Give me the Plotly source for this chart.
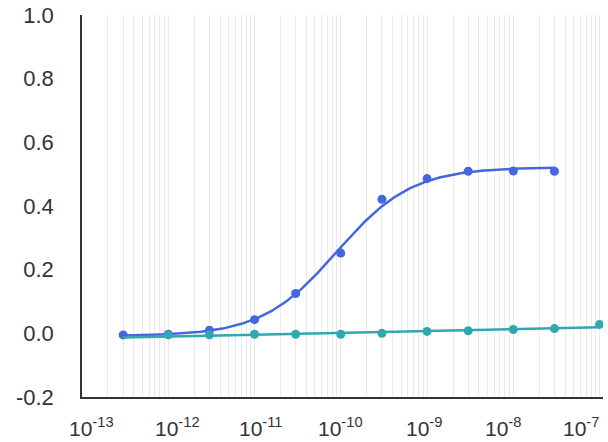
import numpy as np
import plotly.graph_objects as go

# ---- data ----
blue_x = [3e-13, 1e-12, 3e-12, 1e-11, 3e-11, 1e-10, 3e-10, 1e-9, 3e-9, 1e-8, 3e-8]
blue_y = [-0.005, -0.003, 0.010, 0.043, 0.125, 0.252, 0.421, 0.486, 0.509, 0.510, 0.509]
teal_x = [1e-12, 3e-12, 1e-11, 3e-11, 1e-10, 3e-10, 1e-9, 3e-9, 1e-8, 3e-8, 1e-7]
teal_y = [-0.005, -0.005, -0.003, -0.003, -0.003, 0.000, 0.006, 0.008, 0.012, 0.015, 0.028]
decades = [-13, -12, -11, -10, -9, -8, -7]
y_ticks = [-0.2, 0.0, 0.2, 0.4, 0.6, 0.8, 1.0]

# pixel nudges of the decade labels as laid out in the reference
label_shift = [9, 9, 6, 0, -3, -10, -19]

BLUE = "#4467E0"
TEAL = "#31A8AF"
TEXT = "#333333"


def fit_sigmoid(x, y):
    """Least-squares sigmoid (standard slope) fit: bottom, top, logEC50."""
    lx = np.log10(np.asarray(x))
    y = np.asarray(y)
    best = None
    for ec in np.arange(-12.5, -8.0, 0.005):
        s = 1.0 / (1.0 + 10 ** (ec - lx))
        A = np.vstack([1 - s, s]).T
        coef, *_ = np.linalg.lstsq(A, y, rcond=None)
        r = np.sum((A @ coef - y) ** 2)
        if best is None or r < best[0]:
            best = (r, ec, coef[0], coef[1])
    _, ec, b, t = best
    return lambda lxx: b + (t - b) / (1.0 + 10 ** (ec - lxx))


f_blue = fit_sigmoid(blue_x, blue_y)
lx_b = np.linspace(np.log10(min(blue_x)), np.log10(max(blue_x)), 300)
curve_bx = 10 ** lx_b
curve_by = f_blue(lx_b)

p = np.polyfit(np.log10(teal_x), teal_y, 1)
lx_t = np.linspace(np.log10(min(blue_x + teal_x)), np.log10(max(teal_x)), 100)
curve_tx = 10 ** lx_t
curve_ty = np.polyval(p, lx_t)

major_vals = [10.0 ** d for d in decades]
minor_vals = [m * 10.0 ** d for d in decades[:-1] for m in range(2, 10)]

fig = go.Figure()
fig.add_trace(go.Scatter(x=curve_bx, y=curve_by, mode="lines",
                         line=dict(color=BLUE, width=2.5), hoverinfo="skip"))
fig.add_trace(go.Scatter(x=blue_x, y=blue_y, mode="markers",
                         marker=dict(color=BLUE, size=9)))
fig.add_trace(go.Scatter(x=curve_tx, y=curve_ty, mode="lines",
                         line=dict(color=TEAL, width=2.5), hoverinfo="skip"))
fig.add_trace(go.Scatter(x=teal_x, y=teal_y, mode="markers",
                         marker=dict(color=TEAL, size=9)))

for d, v, sh in zip(decades, major_vals, label_shift):
    fig.add_annotation(
        x=np.log10(v), xref="x", y=0, yref="paper",
        text=f"10<sup>{d}</sup>", showarrow=False,
        xanchor="center", yanchor="middle", xshift=sh, yshift=-30,
        font=dict(family="Liberation Sans, Arial, sans-serif", size=21, color=TEXT),
    )

fig.update_layout(
    width=608, height=442,
    margin=dict(l=82, r=5, t=15, b=45),
    paper_bgcolor="white", plot_bgcolor="white",
    showlegend=False,
    font=dict(family="Liberation Sans, Arial, sans-serif", size=22, color=TEXT),
)
fig.update_xaxes(
    type="log", range=[-13, -6.96], automargin=False,
    tickmode="array", tickvals=major_vals, showticklabels=False,
    showgrid=True, gridcolor="#EAEAEA", gridwidth=1,
    minor=dict(tickmode="array", tickvals=minor_vals, showgrid=True,
               gridcolor="#EAEAEA", gridwidth=1, ticks=""),
    showline=True, linecolor=TEXT, linewidth=1.5,
    ticks="", zeroline=False,
)
fig.update_yaxes(
    range=[-0.2, 1.0], automargin=False, tickmode="array", tickvals=y_ticks,
    ticktext=[f"{v:.1f}" for v in y_ticks],
    showgrid=False, zeroline=False,
    showline=True, linecolor=TEXT, linewidth=1.5,
    ticks="", ticklabelstandoff=22,
)

fig.write_html("out.html", config={"displayModeBar": False},
               post_script="document.body.style.margin='0px';")
